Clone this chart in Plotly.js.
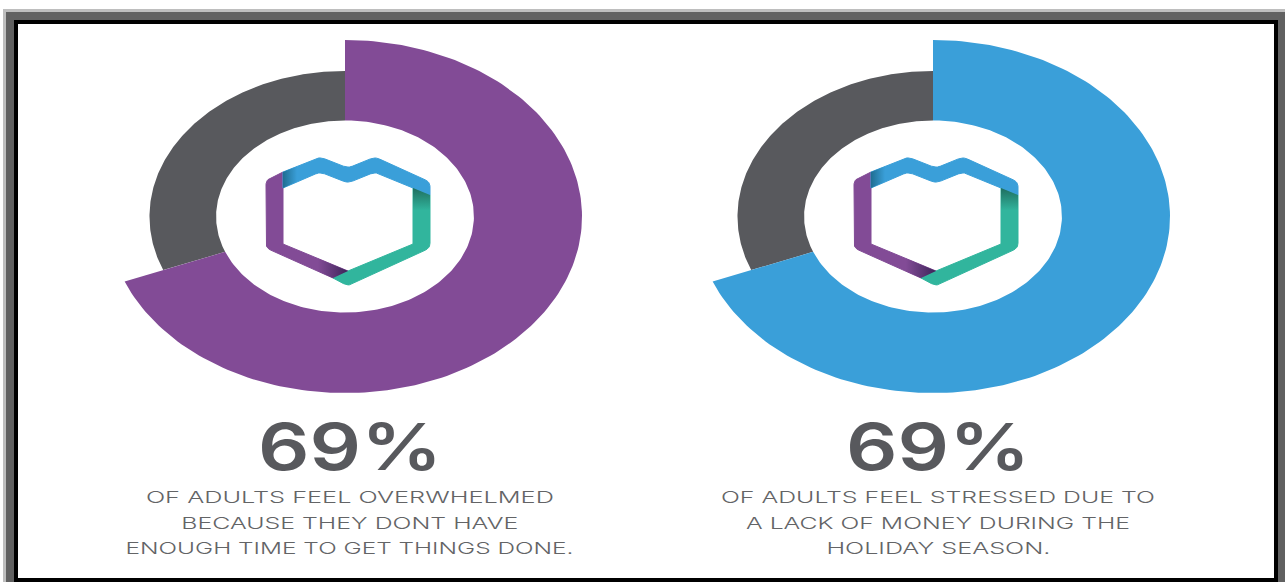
<!DOCTYPE html>
<html>
<head>
<meta charset="utf-8">
<script src="https://cdn.plot.ly/plotly-3.0.1.min.js"></script>
<style>html,body{margin:0;padding:0;background:#fff}#chart{width:1285px;height:582px}</style>
</head>
<body>
<div id="chart"></div>
<script>
// Survey results: share of adults answering yes, one donut per question
const surveyShares = [69, 69];
const questionLines = [
  ["OF ADULTS FEEL OVERWHELMED", "BECAUSE THEY DONT HAVE", "ENOUGH TIME TO GET THINGS DONE."],
  ["OF ADULTS FEEL STRESSED DUE TO", "A LACK OF MONEY DURING THE", "HOLIDAY SEASON."]
];
const accentColors = ["#824B96", "#3A9FD9"];

const W = 1285, H = 582;
const RING_GRAY = "#58595D", BODY_GRAY = "#636466";
const LOGO_PURPLE = "#824B96", LOGO_BLUE = "#3A9FD9", LOGO_GREEN = "#31B59D";

// Horizontal squash of the artwork: each donut spans this many pixels from its centre
const RX = 237, RY = 176.5;
const centers = [{x: 345, y: 216.5}, {x: 933, y: 216.5}];
const R_ACCENT = 1, R_REST = 0.825, R_HOLE = 0.544;

// Ring segment running clockwise from 12 o'clock, in percent of the full turn
function ringSegment(fromPct, toPct, rOuter, rInner) {
  const xs = [], ys = [], steps = 180;
  const pt = (pct, r) => {
    const a = 2 * Math.PI * pct / 100;
    xs.push(r * Math.sin(a)); ys.push(r * Math.cos(a));
  };
  for (let i = 0; i <= steps; i++) pt(fromPct + (toPct - fromPct) * i / steps, rOuter);
  for (let i = steps; i >= 0; i--) pt(fromPct + (toPct - fromPct) * i / steps, rInner);
  xs.push(xs[0]); ys.push(ys[0]);
  return {x: xs, y: ys};
}

// Heart-in-hexagon emblem, offsets in pixels from the donut centre.
// A third value marks a corner that gets rounded off.
const logoBands = {
  purple: [[-62,-44.5],[-79,-36.5,1],[-79,31.5,1],[-12,61.5],[3,54.5],[-62,27.5],[-62,-29.5]],
  green:  [[68,-28.5],[85,-21.5],[85,31.5,1],[3,69.5,1],[-12,61.5],[3,54.5],[68,27.5]],
  blue:   [[-62,-44.5],[-25,-59.5,1],[3,-48.5,1],[30,-59.5,1],[85,-34.5,1],[85,-21.5],[68,-28.5],[30,-44.5,1],[3,-33.5,1],[-25,-44.5,1],[-62,-28.5]]
};
const logoShades = [
  {pts: [[-62,-44.5],[-48,-50],[-48,-35],[-62,-28.5]], type: "horizontal", from: "#1F6E92", to: LOGO_BLUE},
  {pts: [[-27,42],[3,54.5],[-12,61.5],[-27,54.8]], type: "horizontal", from: LOGO_PURPLE, to: "#3D2459"},
  {pts: [[68,-28.5],[85,-21.5],[85,-6],[68,-6]], type: "vertical", from: LOGO_GREEN, to: "#1F6E5F"}
];

// Replace flagged corners with a short quadratic curve
function roundCorners(pts, r) {
  const out = [];
  pts.forEach((p, i) => {
    if (!p[2]) { out.push(p); return; }
    const prev = pts[(i + pts.length - 1) % pts.length], next = pts[(i + 1) % pts.length];
    const toward = q => {
      const d = Math.hypot(q[0] - p[0], q[1] - p[1]);
      return [p[0] + (q[0] - p[0]) * r / d, p[1] + (q[1] - p[1]) * r / d];
    };
    const a = toward(prev), b = toward(next);
    for (let k = 0; k <= 6; k++) {
      const t = k / 6, u = 1 - t;
      out.push([u*u*a[0] + 2*u*t*p[0] + t*t*b[0], u*u*a[1] + 2*u*t*p[1] + t*t*b[1]]);
    }
  });
  return out;
}

const scaleLogo = pts => {
  const closed = pts.concat([pts[0]]);
  return {x: closed.map(p => p[0] / RX), y: closed.map(p => -p[1] / RY)};
};

const traces = [];
surveyShares.forEach((share, i) => {
  const axes = i === 0 ? {xaxis: "x", yaxis: "y"} : {xaxis: "x2", yaxis: "y2"};
  const base = Object.assign({type: "scatter", mode: "lines", fill: "toself", hoverinfo: "skip"}, axes);
  traces.push(Object.assign({}, base, ringSegment(share, 100, R_REST, R_HOLE),
    {fillcolor: RING_GRAY, line: {width: 0}, name: "Other adults"}));
  traces.push(Object.assign({}, base, ringSegment(0, share, R_ACCENT, R_HOLE),
    {fillcolor: accentColors[i], line: {width: 0}, name: share + "%"}));
  [["purple", LOGO_PURPLE], ["green", LOGO_GREEN], ["blue", LOGO_BLUE]].forEach(([k, c]) => {
    traces.push(Object.assign({}, base, scaleLogo(roundCorners(logoBands[k], 5)),
      {fillcolor: c, line: {width: 1, color: c}}));
  });
  logoShades.forEach(s => {
    traces.push(Object.assign({}, base, scaleLogo(s.pts), {
      line: {width: 0},
      fillgradient: {type: s.type, colorscale: [[0, s.from], [1, s.to]]}
    }));
  });
});

// Nested frame bands around the whole canvas
const band = (x0, y0, x1, y1, c) => ({
  type: "rect", xref: "paper", yref: "paper", layer: "below",
  x0: x0 / W, x1: x1 / W, y0: 1 - y1 / H, y1: 1 - y0 / H,
  fillcolor: c, line: {width: 0}
});
const shapes = [
  band(3, 9, W, H, "#BEBEBE"),
  band(6, 12, W, H, "#616161"),
  band(14, 20, 1278, H, "#000000"),
  band(18, 24, 1274, 578, "#FFFFFF")
];

// Text rows: stretched afterwards to the widths below
const annotations = [], stretchWidths = [];
const addText = (text, cx, cy, size, weight, color, width) => {
  annotations.push({
    xref: "paper", yref: "paper", x: cx / W, y: 1 - cy / H, text: text, showarrow: false,
    xanchor: "center", yanchor: "middle",
    font: {family: "Inter, 'Noto Sans', sans-serif", size: size, weight: weight, color: color}
  });
  stretchWidths.push(width);
};
const lineWidths = [[408, 337, 448], [434, 384, 224]];
const lineY = [497, 523, 548];
surveyShares.forEach((share, i) => {
  addText(share + "%", centers[i].x + 5, 446, 64, 600, RING_GRAY, 184);
  questionLines[i].forEach((t, j) => {
    addText(t, centers[i].x + 5, lineY[j], 16.5, 300, BODY_GRAY, lineWidths[i][j]);
  });
});

const domainX = c => [(c.x - RX) / W, (c.x + RX) / W];
const domainY = c => [1 - (c.y + RY) / H, 1 - (c.y - RY) / H];
const hidden = dom => ({domain: dom, range: [-1, 1], visible: false, fixedrange: true});

const layout = {
  width: W, height: H,
  margin: {l: 0, r: 0, t: 0, b: 0, pad: 0},
  paper_bgcolor: "#FFFFFF", plot_bgcolor: "rgba(0,0,0,0)",
  showlegend: false,
  xaxis: hidden(domainX(centers[0])), yaxis: hidden(domainY(centers[0])),
  xaxis2: hidden(domainX(centers[1])), yaxis2: hidden(domainY(centers[1])),
  shapes: shapes, annotations: annotations
};

const applyStretch = () => {
  document.querySelectorAll("#chart .annotation-text").forEach((el, i) => {
    el.setAttribute("lengthAdjust", "spacingAndGlyphs");
    el.setAttribute("textLength", stretchWidths[i]);
  });
};
Plotly.newPlot("chart", traces, layout, {displayModeBar: false, staticPlot: true}).then(applyStretch);
</script>
</body>
</html>
